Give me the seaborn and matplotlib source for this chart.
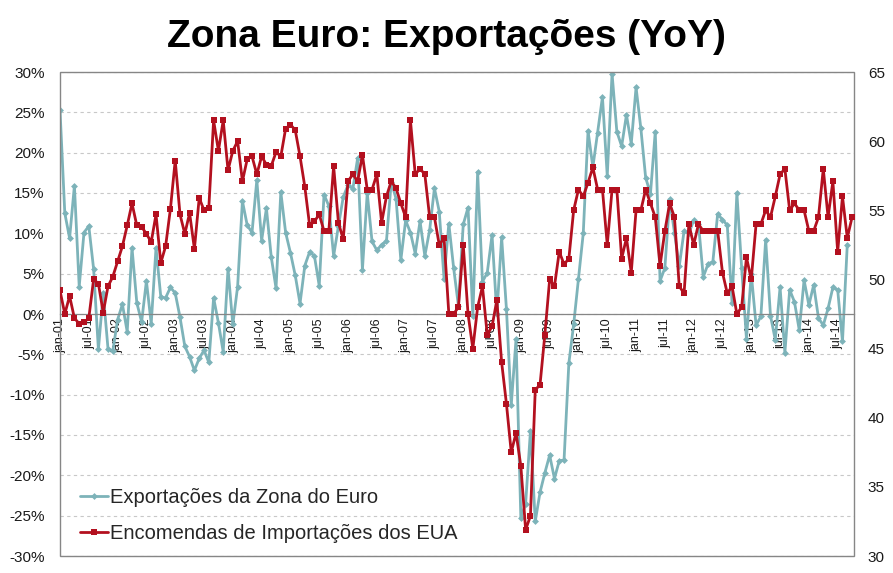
import matplotlib
matplotlib.use("Agg")
import matplotlib.pyplot as plt
import seaborn as sns
import pandas as pd
from matplotlib.patches import Rectangle
from matplotlib.lines import Line2D

# ---- data (monthly, starting jan-01) ----
exports_yoy = [  # Exportações da Zona do Euro, % YoY (left axis), jan-01 .. sep-14
    25.3, 12.5, 9.4, 15.9, 3.4, 10.1, 10.9, 5.6, -4.4, 2.6, -4.3, -4.6,
    -0.7, 1.2, -2.2, 8.2, 1.4, -1.0, 4.1, -1.2, 8.2, 2.1, 2.0, 3.3,
    2.6, -0.4, -4.0, -5.3, -7.0, -5.5, -4.5, -6.0, 2.0, -1.1, -4.7, 5.6,
    -1.3, 3.4, 14.0, 11.0, 10.1, 16.6, 9.1, 13.1, 7.1, 3.2, 15.1, 10.1,
    7.6, 4.8, 1.3, 6.0, 7.7, 7.2, 3.5, 14.8, 13.4, 7.2, 10.9, 14.5,
    16.0, 15.5, 19.3, 5.5, 15.0, 9.0, 7.9, 8.6, 9.0, 16.4, 14.3, 6.7,
    11.6, 10.1, 7.5, 11.5, 7.2, 10.4, 15.6, 12.7, 4.4, 11.2, 5.7, 1.0,
    11.1, 13.2, -0.3, 17.6, 4.0, 5.1, 9.8, 0.0, 9.5, 0.6, -11.3, -3.1,
    -25.3, -23.5, -14.5, -25.7, -22.1, -19.7, -17.5, -20.4, -18.2, -18.1, -6.1, -1.3,
    4.3, 10.0, 22.7, 18.2, 22.5, 26.9, 17.1, 29.8, 22.6, 20.8, 24.7, 21.1,
    28.1, 23.0, 16.9, 14.9, 22.6, 4.1, 5.7, 14.2, 10.1, 5.9, 10.3, 10.0,
    11.6, 11.2, 4.6, 6.2, 6.5, 12.4, 11.7, 11.0, 1.4, 15.0, 5.7, -3.1,
    5.0, -1.4, -0.3, 9.2, -0.2, -3.2, 3.3, -4.8, 3.0, 1.5, -2.0, 4.2,
    1.1, 3.6, -0.5, -1.4, 0.7, 3.3, 3.0, -3.4, 8.6,
]
us_import_orders = [  # Encomendas de Importações dos EUA (right axis), jan-01 .. oct-14
    49.2, 47.5, 48.8, 47.2, 46.8, 46.9, 47.2, 50.0, 49.7, 47.6, 49.5, 50.2,
    51.3, 52.4, 53.9, 55.5, 53.9, 53.8, 53.3, 52.7, 54.7, 51.2, 52.4, 55.1,
    58.6, 54.7, 53.3, 54.8, 52.2, 55.9, 55.0, 55.2, 61.5, 59.3, 61.5, 57.9,
    59.3, 60.0, 57.1, 58.7, 58.9, 57.6, 58.9, 58.3, 58.2, 59.2, 58.9, 60.9,
    61.2, 60.8, 58.9, 56.7, 53.9, 54.2, 54.7, 53.5, 53.5, 58.2, 54.1, 52.9,
    57.1, 57.6, 57.1, 59.0, 56.5, 56.5, 57.6, 54.1, 56.0, 57.1, 56.6, 55.5,
    54.5, 61.5, 57.6, 58.0, 57.6, 54.5, 54.5, 52.5, 53.0, 47.5, 47.5, 48.0,
    52.5, 47.5, 45.0, 48.0, 49.5, 46.0, 46.6, 48.5, 44.0, 41.0, 37.5, 38.9,
    36.5, 31.9, 32.9, 42.0, 42.4, 46.0, 50.0, 49.5, 52.0, 51.1, 51.5, 55.0,
    56.5, 56.0, 57.0, 58.1, 56.5, 56.5, 52.5, 56.5, 56.5, 51.5, 53.0, 50.5,
    55.0, 55.0, 56.5, 55.5, 54.5, 51.0, 53.5, 55.5, 54.5, 49.5, 49.0, 54.0,
    52.5, 54.0, 53.5, 53.5, 53.5, 53.5, 50.5, 49.0, 49.5, 47.5, 48.0, 51.6,
    50.0, 54.0, 54.0, 55.0, 54.5, 56.0, 57.6, 58.0, 55.0, 55.5, 55.0, 55.0,
    53.5, 53.5, 54.5, 58.0, 54.5, 57.1, 52.0, 56.0, 53.0, 54.5,
]
x_tick_labels = [
    "jan-01", "jul-01", "jan-02", "jul-02", "jan-03", "jul-03", "jan-04", "jul-04",
    "jan-05", "jul-05", "jan-06", "jul-06", "jan-07", "jul-07", "jan-08", "jul-08",
    "jan-09", "jul-09", "jan-10", "jul-10", "jan-11", "jul-11", "jan-12", "jul-12",
    "jan-13", "jul-13", "jan-14", "jul-14",
]
left_ticks = [-30, -25, -20, -15, -10, -5, 0, 5, 10, 15, 20, 25, 30]
right_ticks = [30, 35, 40, 45, 50, 55, 60, 65]
title = "Zona Euro: Exportações (YoY)"
label_exports = "Exportações da Zona do Euro"
label_orders = "Encomendas de Importações dos EUA"

TEAL = "#7DB3B9"
RED = "#B3101F"
GRID = "#C8C8C8"
FRAME = "#868686"

sns.set_theme(style="white")
plt.rcParams["font.family"] = ["Liberation Sans", "DejaVu Sans"]

df_exp = pd.DataFrame({"m": range(len(exports_yoy)), "v": exports_yoy})
df_ord = pd.DataFrame({"m": range(len(us_import_orders)), "v": us_import_orders})

fig = plt.figure(figsize=(8.93, 5.73), dpi=100)
ax = fig.add_axes([60 / 893, 1 - 556 / 573, 794 / 893, 484 / 573])
ax2 = ax.twinx()

sns.lineplot(data=df_exp, x="m", y="v", ax=ax, color=TEAL, linewidth=2.0,
             marker="D", markersize=3.5, markeredgewidth=0, legend=False)
sns.lineplot(data=df_ord, x="m", y="v", ax=ax2, color=RED, linewidth=2.0,
             marker="s", markersize=5.0, markeredgewidth=0, legend=False)

ax.set_xlim(0, 165.4)
ax.set_ylim(-30, 30)
ax2.set_ylim(30, 65)

# left axis + grid
ax.set_yticks(left_ticks)
ax.set_yticklabels([f"{t}%" for t in left_ticks], fontsize=11, color="#1a1a1a")
ax.yaxis.grid(True, linestyle=(0, (3, 3)), color=GRID, linewidth=0.8)
ax.xaxis.grid(False)
ax.tick_params(axis="y", length=0, pad=11)

# right axis
ax2.set_yticks(right_ticks)
ax2.set_yticklabels([str(t) for t in right_ticks], fontsize=11, color="#1a1a1a")
ax2.tick_params(axis="y", length=0, pad=10)
ax2.grid(False)

# category axis crossing at 0
ax.spines["bottom"].set_position(("data", 0))
ax.tick_params(axis="x", length=4, direction="inout", color=FRAME, width=0.8,
               pad=1, labelsize=9, labelcolor="#1a1a1a", labelrotation=90)
ax.set_xticks(range(0, 6 * len(x_tick_labels), 6))
ax.set_xticklabels(x_tick_labels)
for lbl in ax.get_xticklabels():
    lbl.set_rotation(90)
    lbl.set_va("top")
    lbl.set_ha("center")
for sp in ["top", "left", "right"]:
    ax.spines[sp].set_visible(False)
    ax2.spines[sp].set_visible(False)
ax2.spines["bottom"].set_visible(False)
ax.spines["bottom"].set_color(FRAME)
ax.spines["bottom"].set_linewidth(0.9)
ax.add_patch(Rectangle((0, 0), 1, 1, transform=ax.transAxes, fill=False,
                       edgecolor=FRAME, linewidth=1.0, clip_on=False, zorder=5))
ax.set_xlabel("")
ax.set_ylabel("")
ax2.set_ylabel("")

fig.text(0.5, 1 - 37 / 573, title, ha="center", va="center",
         fontsize=28, fontweight="bold", color="black")

handles = [
    Line2D([0], [0], color=TEAL, lw=2.0, marker="D", markersize=3.5, markeredgewidth=0),
    Line2D([0], [0], color=RED, lw=2.0, marker="s", markersize=5.0, markeredgewidth=0),
]
ax2.legend(handles, [label_exports, label_orders], loc="lower left",
           bbox_to_anchor=(0.007, -0.002), frameon=False, fontsize=14.5,
           handlelength=1.4, handletextpad=0.1, labelspacing=0.84,
           borderaxespad=0.3)

fig.savefig("out.png", dpi=100)
